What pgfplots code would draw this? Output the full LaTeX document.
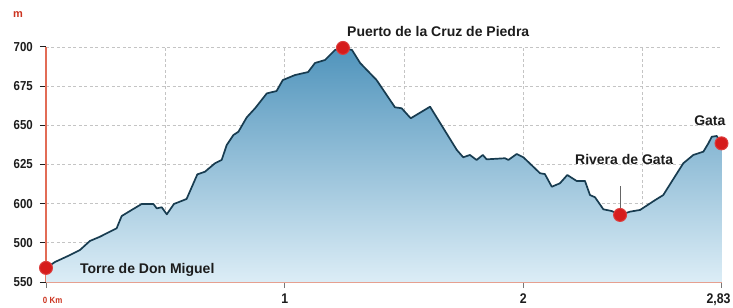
\documentclass[border=0pt]{standalone}
\usepackage{pgfplots}
\pgfplotsset{compat=1.18}
\usepackage{fontspec}
\setmainfont{Liberation Sans}
\newfontfamily\condfont[FakeStretch=0.88]{Liberation Sans}
\definecolor{profline}{RGB}{24,60,80}
\definecolor{topfill}{RGB}{80,148,188}
\definecolor{botfill}{RGB}{220,237,246}
\definecolor{axred}{RGB}{226,108,86}
\definecolor{botred}{RGB}{232,150,130}
\definecolor{dotred}{RGB}{214,28,28}
\definecolor{lblred}{RGB}{204,52,32}
\definecolor{gridgray}{RGB}{196,196,196}
\definecolor{txt}{RGB}{28,28,28}
\begin{document}
\begin{tikzpicture}
\useasboundingbox (-46bp,-26bp) rectangle (687bp,282bp);
\begin{axis}[
  at={(0,0)}, anchor=south west,
  scale only axis, width=675.5bp, height=235bp,
  xmin=0, xmax=2.83, ymin=550, ymax=700,
  clip=false,
  axis x line*=bottom, axis y line*=left,
  x axis line style={draw=botred, line width=1.6bp},
  y axis line style={draw=axred, line width=2.4bp},
  ytick={550,575,600,625,650,675,700},
  yticklabels={550,500,600,625,650,675,700},
  xtick={0,1,2,2.83},
  xticklabels={{\makebox[0pt][l]{\kern-3bp\color{lblred}\fontsize{9bp}{9bp}\bfseries 0 Km}},1,2,{\makebox[0pt][r]{2,83\kern-9bp}}},
  minor xtick={0.5,1,1.5,2,2.5},
  xminorgrids, ymajorgrids,
  major grid style={draw=gridgray, line width=0.7bp, dash pattern=on 3bp off 2.5bp},
  minor grid style={draw=gridgray, line width=0.7bp, dash pattern=on 3bp off 2.5bp},
  tick align=outside,
  major tick length=6bp, minor tick length=0bp,
  ytick style={draw=txt, line width=1bp},
  xtick style={draw=txt!60, line width=0.6bp},
  yticklabel style={font=\condfont\fontsize{13bp}{13bp}\bfseries, text=txt, anchor=east, inner sep=0pt, xshift=-7bp},
  xticklabel style={font=\condfont\fontsize{14bp}{14bp}\bfseries, text=txt, anchor=base, inner sep=0pt, yshift=-15bp},
]
% filled area (profile closed down to the base line)
\addplot[draw=none, top color=topfill, bottom color=botfill] coordinates {
(0,550) (0,558.9) (0.038,562.8) (0.092,566.6) (0.142,570.4) (0.184,576.2) (0.226,578.9)
(0.296,584.3) (0.317,592.1) (0.359,596.0) (0.401,599.8) (0.450,599.8) (0.464,597.0)
(0.485,597.7) (0.506,593.2) (0.536,599.8) (0.589,603.0) (0.634,618.7) (0.666,620.4)
(0.708,625.8) (0.736,627.9) (0.757,637.4) (0.785,643.8) (0.806,645.9) (0.841,655.1)
(0.876,660.9) (0.925,670.4) (0.966,671.9) (0.992,678.9) (1.043,682.1) (1.098,684.0)
(1.127,689.8) (1.169,691.7) (1.211,698.1) (1.244,699.4) (1.282,698.1) (1.316,689.8)
(1.385,678.9) (1.462,661.5) (1.490,660.9) (1.528,654.5) (1.609,661.9) (1.721,634.3)
(1.748,629.6) (1.776,631.1) (1.804,627.9) (1.830,631.1) (1.846,628.3) (1.923,629.0)
(1.937,627.9) (1.972,631.7) (2.000,629.6) (2.070,619.4) (2.090,618.9) (2.119,610.8)
(2.153,613.0) (2.184,618.3) (2.223,614.5) (2.258,614.5) (2.279,605.5) (2.300,604.1)
(2.335,596.4) (2.370,595.3) (2.405,592.8) (2.447,594.9) (2.489,596.0) (2.552,602.3)
(2.586,605.5) (2.621,614.0) (2.670,625.8) (2.712,631.1) (2.754,633.2) (2.775,638.5)
(2.789,642.7) (2.810,643.2) (2.83,638.5) (2.83,550)
};
% profile line
\addplot[draw=profline, line width=1.7bp, line join=round] coordinates {
(0,558.9) (0.038,562.8) (0.092,566.6) (0.142,570.4) (0.184,576.2) (0.226,578.9)
(0.296,584.3) (0.317,592.1) (0.359,596.0) (0.401,599.8) (0.450,599.8) (0.464,597.0)
(0.485,597.7) (0.506,593.2) (0.536,599.8) (0.589,603.0) (0.634,618.7) (0.666,620.4)
(0.708,625.8) (0.736,627.9) (0.757,637.4) (0.785,643.8) (0.806,645.9) (0.841,655.1)
(0.876,660.9) (0.925,670.4) (0.966,671.9) (0.992,678.9) (1.043,682.1) (1.098,684.0)
(1.127,689.8) (1.169,691.7) (1.211,698.1) (1.244,699.4) (1.282,698.1) (1.316,689.8)
(1.385,678.9) (1.462,661.5) (1.490,660.9) (1.528,654.5) (1.609,661.9) (1.721,634.3)
(1.748,629.6) (1.776,631.1) (1.804,627.9) (1.830,631.1) (1.846,628.3) (1.923,629.0)
(1.937,627.9) (1.972,631.7) (2.000,629.6) (2.070,619.4) (2.090,618.9) (2.119,610.8)
(2.153,613.0) (2.184,618.3) (2.223,614.5) (2.258,614.5) (2.279,605.5) (2.300,604.1)
(2.335,596.4) (2.370,595.3) (2.405,592.8) (2.447,594.9) (2.489,596.0) (2.552,602.3)
(2.586,605.5) (2.621,614.0) (2.670,625.8) (2.712,631.1) (2.754,633.2) (2.775,638.5)
(2.789,642.7) (2.810,643.2) (2.83,638.5)
};
% pointer line for Rivera de Gata
\draw[draw=gray!80!black, line width=0.9bp] (axis cs:2.405,611) -- (axis cs:2.405,596);
% place dots
\addplot[only marks, mark=*, mark size=6.5bp, draw=dotred!85!white, fill=dotred, line width=1bp] coordinates {
(0,559) (1.244,699.4) (2.405,592.8) (2.83,638.5)
};
% labels
\node[anchor=base west, inner sep=0pt, font=\fontsize{14bp}{14bp}\bfseries, text=txt] at (axis cs:0.142,555.7) {Torre de Don Miguel};
\node[anchor=base west, inner sep=0pt, font=\fontsize{14bp}{14bp}\bfseries, text=txt] at (axis cs:1.261,706.4) {Puerto de la Cruz de Piedra};
\node[anchor=base west, inner sep=0pt, font=\fontsize{14bp}{14bp}\bfseries, text=txt] at (axis cs:2.216,624.7) {Rivera de Gata};
\node[anchor=base west, inner sep=0pt, font=\fontsize{14bp}{14bp}\bfseries, text=txt] at (axis cs:2.715,650.2) {Gata};
\end{axis}
\node[font=\fontsize{11bp}{11bp}\bfseries, text=lblred, inner sep=0pt] at (-28bp,267bp) {m};
\end{tikzpicture}
\end{document}
